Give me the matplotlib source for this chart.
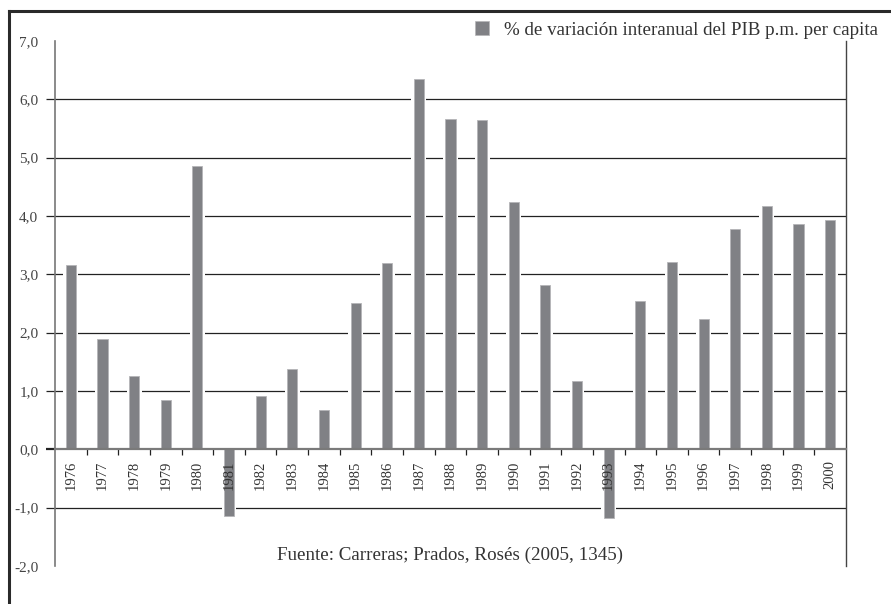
import matplotlib
matplotlib.use("Agg")
import matplotlib.pyplot as plt
from matplotlib.patches import Patch
from matplotlib.lines import Line2D

years = ["1976", "1977", "1978", "1979", "1980", "1981", "1982", "1983", "1984",
         "1985", "1986", "1987", "1988", "1989", "1990", "1991", "1992", "1993",
         "1994", "1995", "1996", "1997", "1998", "1999", "2000"]
values = [3.16, 1.90, 1.25, 0.84, 4.86, -1.15, 0.91, 1.38, 0.67,
          2.51, 3.19, 6.35, 5.67, 5.64, 4.24, 2.81, 1.18, -1.18,
          2.54, 3.22, 2.23, 3.77, 4.18, 3.87, 3.93]
y_ticks = [-2, -1, 0, 1, 2, 3, 4, 5, 6, 7]
y_labels = ["-2,0", "-1,0", "0,0", "1,0", "2,0", "3,0", "4,0", "5,0", "6,0", "7,0"]
legend_label = "% de variación interanual del PIB p.m. per capita"
source_text = "Fuente: Carreras; Prados, Rosés (2005, 1345)"

SERIF = ["Liberation Serif", "DejaVu Serif"]
BAR_COLOR = "#808185"
TEXT_COLOR = "#333333"

W, H = 891, 604
fig = plt.figure(figsize=(W / 100, H / 100), dpi=100)
fig.patch.set_facecolor("white")

left, right, top, bottom = 55, 846, 41, 566
ax = fig.add_axes([left / W, 1 - bottom / H, (right - left) / W, (bottom - top) / H])

x = list(range(len(years)))
# white halo cutting the gridlines
ax.bar(x, values, width=0.47, color="white", edgecolor="none", zorder=2)
ax.bar(x, values, width=0.32, color=BAR_COLOR, edgecolor="#b5b5b8",
       linewidth=0.6, zorder=3)

ax.set_xlim(-0.5, len(years) - 0.5)
ax.set_ylim(-2, 7)

# y axis
ax.set_yticks(y_ticks)
ax.set_yticklabels(y_labels, family=SERIF, fontsize=11, color="#444444")
ax.tick_params(axis="y", direction="out", length=6.5, width=0.9, color="#222222",
               pad=5.5)
ax.grid(axis="y", color="#222222", linewidth=0.9)
ax.set_axisbelow(True)
for val, tk in zip(y_ticks, ax.yaxis.get_major_ticks()):
    if val in (-2, 7):
        tk.tick1line.set_visible(False)
        tk.gridline.set_visible(False)
    if val == 0:
        tk.gridline.set_visible(False)
        tk.tick1line.set_color("#777777")
        tk.tick1line.set_markeredgewidth(1.6)

# x axis on the zero line, ticks between categories
ax.spines["bottom"].set_position(("data", 0))
ax.spines["bottom"].set_color("#7a7a7a")
ax.spines["bottom"].set_linewidth(1.6)
ax.spines["bottom"].set_zorder(4)
ax.spines["top"].set_visible(False)
ax.spines["left"].set_color("#777777")
ax.spines["left"].set_linewidth(1.2)
ax.spines["right"].set_color("#444444")
ax.spines["right"].set_linewidth(1.0)
ax.set_xticks([i + 0.5 for i in x[:-1]])
ax.set_xticklabels([])
ax.tick_params(axis="x", direction="out", length=4, width=0.9, color="#222222")

# year labels just below the zero line
for i, yr in zip(x, years):
    ax.text(i, -0.19, yr, rotation=90, ha="center", va="top",
            family=SERIF, fontsize=10.5, color=TEXT_COLOR, zorder=5)

# legend
handle = Patch(facecolor=BAR_COLOR, edgecolor="#b5b5b8", linewidth=0.5)
leg = fig.legend([handle], [legend_label], loc="center right",
                 bbox_to_anchor=(878 / W, 1 - 30 / H), bbox_transform=fig.transFigure,
                 frameon=False, borderpad=0, borderaxespad=0,
                 handlelength=0.75, handleheight=0.75, handletextpad=0.8,
                 prop={"family": SERIF, "size": 13.7})
for t in leg.get_texts():
    t.set_color(TEXT_COLOR)

# source
fig.text(450 / W, 1 - 555 / H, source_text, ha="center", va="center",
         family=SERIF, fontsize=13.7, color=TEXT_COLOR)

# outer frame (left and top edges)
fig.add_artist(Line2D([8.5 / W, 8.5 / W], [0, 1 - 11 / H], transform=fig.transFigure,
                      color="#2a2a2a", linewidth=2.2, solid_capstyle="projecting"))
fig.add_artist(Line2D([8.5 / W, 1.0], [1 - 11 / H, 1 - 11 / H], transform=fig.transFigure,
                      color="#2a2a2a", linewidth=2.2, solid_capstyle="projecting"))

fig.savefig("out.png", dpi=100)
